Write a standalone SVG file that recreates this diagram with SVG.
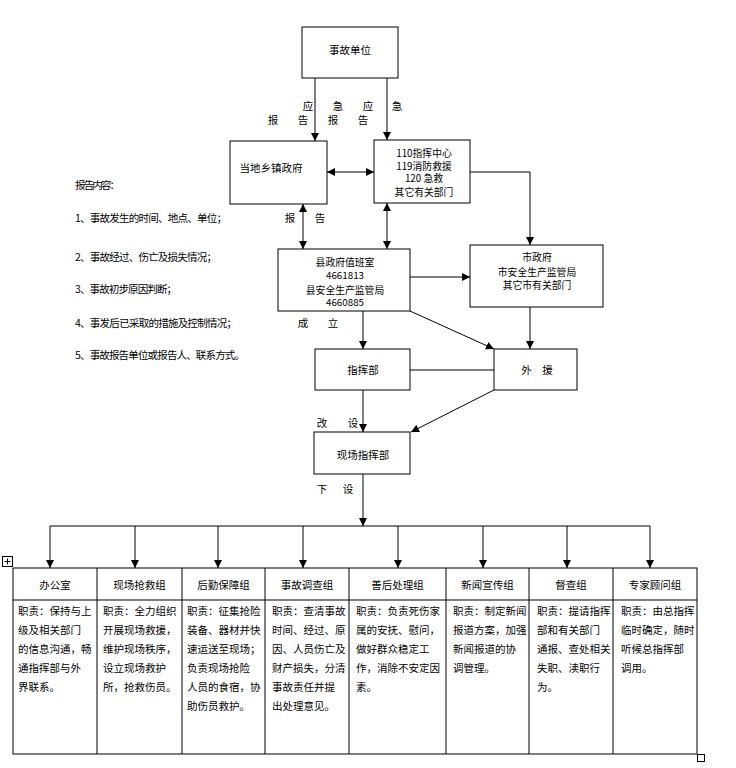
<svg xmlns="http://www.w3.org/2000/svg" width="736" height="768" viewBox="0 0 736 768">
<defs>
<marker id="ah" viewBox="0 0 10 10" refX="10" refY="5" markerWidth="8" markerHeight="8" markerUnits="userSpaceOnUse" orient="auto-start-reverse">
<path d="M0,0 L10,5 L0,10 z" fill="#000"/>
</marker>
<style>
text{font-family:"Noto Sans CJK SC","Liberation Sans",sans-serif;fill:#000;font-size:10.5px}
.c{text-anchor:middle}
.m{font-size:9.8px}
.lb{font-size:11.5px}
rect{fill:#fff;stroke:#000;stroke-width:1}
.cn line,.cn polyline{stroke:#000;stroke-width:1;fill:none}
.a{marker-end:url(#ah)}
.d{marker-start:url(#ah);marker-end:url(#ah)}
.tb line{stroke:#000;stroke-width:1}
</style>
</defs>
<rect width="736" height="768" style="fill:#fff;stroke:none"/>

<g class="cn" id="connectors">
<line class="a" x1="315" y1="78" x2="315" y2="141"/>
<line class="a" x1="387" y1="78" x2="387" y2="140"/>
<line class="d" x1="327" y1="172" x2="374" y2="172"/>
<line class="d" x1="303" y1="204" x2="303" y2="249"/>
<line class="d" x1="387" y1="203" x2="387" y2="249"/>
<polyline class="a" points="470,172 530,172 530,245"/>
<line class="a" x1="410" y1="277" x2="470" y2="277"/>
<line class="a" x1="363" y1="311" x2="363" y2="349"/>
<line class="a" x1="410" y1="311" x2="494" y2="349"/>
<line class="a" x1="530" y1="307" x2="530" y2="349"/>
<line x1="410" y1="370" x2="494" y2="370"/>
<line class="a" x1="363" y1="390" x2="363" y2="432"/>
<line class="a" x1="494" y1="390" x2="411" y2="432"/>
<line class="a" x1="363" y1="474" x2="363" y2="526"/>
<line x1="50" y1="526" x2="650" y2="526"/>
<line class="a" x1="50" y1="526" x2="50" y2="568"/>
<line class="a" x1="135" y1="526" x2="135" y2="568"/>
<line class="a" x1="218" y1="526" x2="218" y2="568"/>
<line class="a" x1="303" y1="526" x2="303" y2="568"/>
<line class="a" x1="398" y1="526" x2="398" y2="568"/>
<line class="a" x1="483" y1="526" x2="483" y2="568"/>
<line class="a" x1="567" y1="526" x2="567" y2="568"/>
<line class="a" x1="650" y1="526" x2="650" y2="568"/>
</g>

<g id="labels" class="lb">
<text x="308" y="110" class="c">应</text>
<text x="338" y="110" class="c">急</text>
<text x="368" y="110" class="c">应</text>
<text x="397" y="110" class="c">急</text>
<text x="273" y="124" class="c">报</text>
<text x="303" y="124" class="c">告</text>
<text x="333" y="124" class="c">报</text>
<text x="363" y="124" class="c">告</text>
<text x="290" y="222" class="c">报</text>
<text x="320" y="222" class="c">告</text>
<text x="303" y="327" class="c">成</text>
<text x="333" y="327" class="c">立</text>
<text x="322" y="427" class="c">改</text>
<text x="353" y="427" class="c">设</text>
<text x="322" y="493" class="c">下</text>
<text x="348" y="493" class="c">设</text>
</g>

<g id="report-content">
<text x="75" y="189" textLength="45" lengthAdjust="spacing">报告内容：</text>
<text x="75" y="222" textLength="152" lengthAdjust="spacing">1、事故发生的时间、地点、单位；</text>
<text x="75" y="261" textLength="142" lengthAdjust="spacing">2、事故经过、伤亡及损失情况；</text>
<text x="75" y="293" textLength="102" lengthAdjust="spacing">3、事故初步原因判断；</text>
<text x="75" y="327" textLength="162" lengthAdjust="spacing">4、事发后已采取的措施及控制情况；</text>
<text x="75" y="359" textLength="170" lengthAdjust="spacing">5、事故报告单位或报告人、联系方式。</text>
</g>

<g id="n-unit">
<rect x="302" y="27" width="96" height="51"/>
<text x="350" y="54" class="c">事故单位</text>
</g>
<g id="n-town">
<rect x="230" y="141" width="97" height="63"/>
<text x="271" y="172" class="c">当地乡镇政府</text>
</g>
<g id="n-110">
<rect x="374" y="140" width="96" height="63"/>
<text x="424" y="157" class="c m">110指挥中心</text>
<text x="424" y="169.5" class="c m">119消防救援</text>
<text x="424" y="182" class="c m">120 急救</text>
<text x="424" y="195.5" class="c m">其它有关部门</text>
</g>
<g id="n-county">
<rect x="278" y="249" width="132" height="62"/>
<text x="345" y="265.5" class="c m">县政府值班室</text>
<text x="345" y="279" class="c m">4661813</text>
<text x="345" y="293.5" class="c m">县安全生产监管局</text>
<text x="345" y="306" class="c m">4660885</text>
</g>
<g id="n-city">
<rect x="470" y="245" width="133" height="62"/>
<text x="537" y="261" class="c m">市政府</text>
<text x="537" y="275.5" class="c m">市安全生产监管局</text>
<text x="537" y="289" class="c m">其它市有关部门</text>
</g>
<g id="n-command">
<rect x="315" y="349" width="95" height="41"/>
<text x="363" y="374" class="c">指挥部</text>
</g>
<g id="n-aid">
<rect x="494" y="349" width="83" height="41"/>
<text x="537" y="374" class="c">外　援</text>
</g>
<g id="n-site">
<rect x="314" y="432" width="96" height="42"/>
<text x="363" y="459" class="c">现场指挥部</text>
</g>

<g id="table" class="tb">
<rect x="13" y="568" width="684" height="186"/>
<line x1="13" y1="600" x2="697" y2="600"/>
<line x1="97" y1="568" x2="97" y2="754"/>
<line x1="182" y1="568" x2="182" y2="754"/>
<line x1="265" y1="568" x2="265" y2="754"/>
<line x1="349" y1="568" x2="349" y2="754"/>
<line x1="446" y1="568" x2="446" y2="754"/>
<line x1="529" y1="568" x2="529" y2="754"/>
<line x1="613" y1="568" x2="613" y2="754"/>
<rect x="2.5" y="556.5" width="10" height="10"/>
<line x1="7.5" y1="558.5" x2="7.5" y2="564.5"/>
<line x1="4.5" y1="561.5" x2="10.5" y2="561.5"/>
<rect x="697.5" y="754.5" width="7" height="7"/>
</g>

<g id="col-office">
<text x="55" y="589" class="c">办公室</text>
<text x="18" y="615">职责：保持与上</text>
<text x="18" y="634">级及相关部门</text>
<text x="18" y="653">的信息沟通，畅</text>
<text x="18" y="672">通指挥部与外</text>
<text x="18" y="691">界联系。</text>
</g>
<g id="col-rescue">
<text x="139.5" y="589" class="c">现场抢救组</text>
<text x="103" y="615">职责：全力组织</text>
<text x="103" y="634">开展现场救援，</text>
<text x="103" y="653">维护现场秩序，</text>
<text x="103" y="672">设立现场救护</text>
<text x="103" y="691">所，抢救伤员。</text>
</g>
<g id="col-logistics">
<text x="223.5" y="589" class="c">后勤保障组</text>
<text x="187" y="615">职责：征集抢险</text>
<text x="187" y="634">装备、器材并快</text>
<text x="187" y="653">速运送至现场；</text>
<text x="187" y="672">负责现场抢险</text>
<text x="187" y="691">人员的食宿，协</text>
<text x="187" y="710">助伤员救护。</text>
</g>
<g id="col-investigation">
<text x="307" y="589" class="c">事故调查组</text>
<text x="272" y="615">职责：查清事故</text>
<text x="272" y="634">时间、经过、原</text>
<text x="272" y="653">因、人员伤亡及</text>
<text x="272" y="672">财产损失，分清</text>
<text x="272" y="691">事故责任并提</text>
<text x="272" y="710">出处理意见。</text>
</g>
<g id="col-aftermath">
<text x="397.5" y="589" class="c">善后处理组</text>
<text x="356" y="615">职责：负责死伤家</text>
<text x="356" y="634">属的安抚、慰问，</text>
<text x="356" y="653">做好群众稳定工</text>
<text x="356" y="672">作，消除不安定因</text>
<text x="356" y="691">素。</text>
</g>
<g id="col-news">
<text x="487.5" y="589" class="c">新闻宣传组</text>
<text x="453" y="615">职责：制定新闻</text>
<text x="453" y="634">报道方案，加强</text>
<text x="453" y="653">新闻报道的协</text>
<text x="453" y="672">调管理。</text>
</g>
<g id="col-supervision">
<text x="571" y="589" class="c">督查组</text>
<text x="537" y="615">职责：提请指挥</text>
<text x="537" y="634">部和有关部门</text>
<text x="537" y="653">通报、查处相关</text>
<text x="537" y="672">失职、渎职行</text>
<text x="537" y="691">为。</text>
</g>
<g id="col-experts">
<text x="655" y="589" class="c">专家顾问组</text>
<text x="621" y="615">职责：由总指挥</text>
<text x="621" y="634">临时确定，随时</text>
<text x="621" y="653">听候总指挥部</text>
<text x="621" y="672">调用。</text>
</g>
</svg>
